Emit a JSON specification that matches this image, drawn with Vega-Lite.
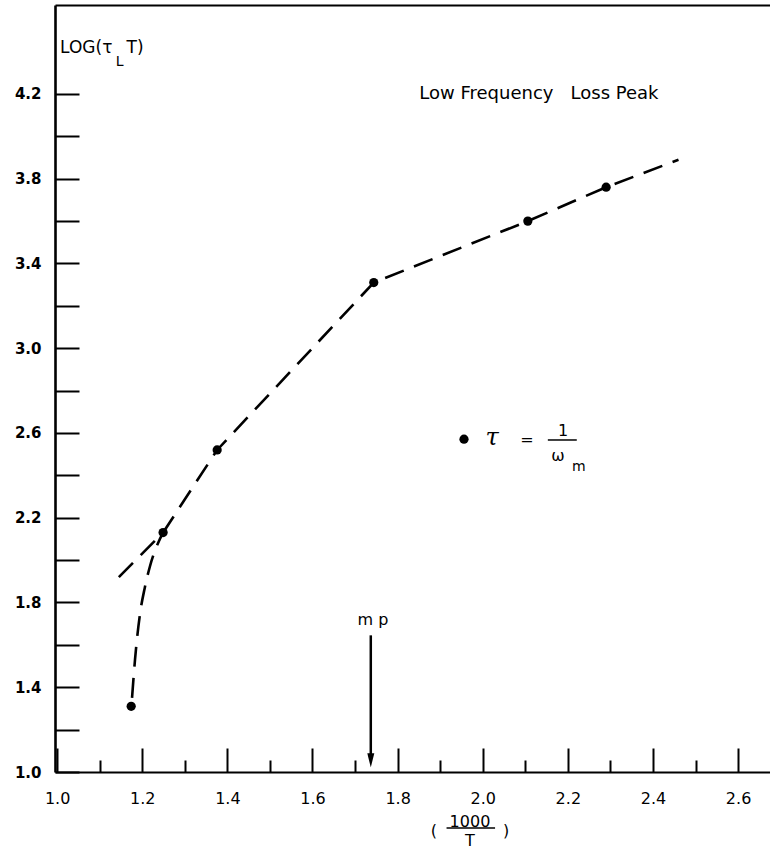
{
  "$schema": "https://vega.github.io/schema/vega-lite/v6.json",
  "width": 715,
  "height": 767,
  "autosize": "none",
  "padding": {"left": 55, "top": 5, "right": 0, "bottom": 79},
  "background": "white",
  "config": {"view": {"stroke": null}, "font": "DejaVu Sans"},
  "datasets": {
    "lineA": [
      {"x": 1.145, "y": 1.92}, {"x": 1.249, "y": 2.13}, {"x": 1.376, "y": 2.52},
      {"x": 1.744, "y": 3.31}, {"x": 2.106, "y": 3.60}, {"x": 2.29, "y": 3.76}, {"x": 2.46, "y": 3.89}
    ],
    "curveB": [
      {"x": 1.176, "y": 1.35}, {"x": 1.183, "y": 1.53}, {"x": 1.195, "y": 1.75}, {"x": 1.206, "y": 1.87},
      {"x": 1.218, "y": 1.97}, {"x": 1.237, "y": 2.08}, {"x": 1.249, "y": 2.13}
    ],
    "points": [
      {"x": 1.174, "y": 1.31}, {"x": 1.249, "y": 2.13}, {"x": 1.376, "y": 2.52},
      {"x": 1.744, "y": 3.31}, {"x": 2.106, "y": 3.60}, {"x": 2.29, "y": 3.76}
    ],
    "legendDot": [{"x": 1.956, "y": 2.571}],
    "bigText": [
      {"x": 2.022, "y": 2.576, "t": "τ"}
    ],
    "midText": [
      {"x": 2.104, "y": 2.567, "t": "="},
      {"x": 2.189, "y": 2.61, "t": "1"},
      {"x": 2.177, "y": 2.49, "t": "ω"},
      {"x": 1.742, "y": 1.717, "t": "m p"},
      {"x": 1.970, "y": 0.764, "t": "1000"},
      {"x": 1.970, "y": 0.672, "t": "T"},
      {"x": 1.885, "y": 0.72, "t": "("},
      {"x": 2.055, "y": 0.72, "t": ")"}
    ],
    "smallText": [
      {"x": 2.226, "y": 2.44, "t": "m"},
      {"x": 1.147, "y": 4.35, "t": "L"}
    ],
    "leftText": [
      {"x": 1.007, "y": 4.417, "t": "LOG(τ"},
      {"x": 1.163, "y": 4.417, "t": "T)"}
    ],
    "title": [{"x": 2.132, "y": 4.2, "t": "Low Frequency\u00a0\u00a0 Loss Peak"}],
    "bars": [
      {"x": 2.153, "x2": 2.221, "y": 2.567},
      {"x": 1.915, "x2": 2.029, "y": 0.736}
    ],
    "arrow": [{"x": 1.737, "y": 1.645, "y2": 1.08}],
    "arrowHead": [{"x": 1.737, "y": 1.055}]
  },
  "layer": [
    {
      "data": {"name": "lineA"},
      "mark": {"type": "line", "color": "black", "strokeWidth": 2.6, "strokeDash": [20, 11]},
      "encoding": {
        "x": {"field": "x", "type": "quantitative",
          "scale": {"domain": [0.995, 2.675], "nice": false, "zero": false},
          "axis": {"orient": "bottom", "values": [1.0, 1.2, 1.4, 1.6, 1.8, 2.0, 2.2, 2.4, 2.6],
            "format": ".1f", "tickSize": -24, "tickWidth": 2, "tickColor": "black",
            "domainColor": "black", "domainWidth": 2.2, "labelPadding": 42,
            "labelFontSize": 16, "labelColor": "black", "labelFlush": false, "labelOverlap": false,
            "grid": false, "title": null}},
        "y": {"field": "y", "type": "quantitative",
          "scale": {"domain": [1.0, 4.62], "nice": false, "zero": false},
          "axis": {"orient": "left", "values": [1.0, 1.2, 1.4, 1.6, 1.8, 2.0, 2.2, 2.4, 2.6, 2.8, 3.0, 3.2, 3.4, 3.6, 3.8, 4.0, 4.2],
            "labelExpr": "round(datum.value*10) % 4 == 2 ? format(datum.value, '.1f') : ''",
            "tickSize": -24, "tickWidth": 2, "tickColor": "black",
            "domainColor": "black", "domainWidth": 2.6, "labelPadding": 38,
            "labelFontSize": 15, "labelFontWeight": "bold", "labelColor": "black",
            "labelFlush": false, "labelOverlap": false, "grid": false, "title": null}}
      }
    },
    {
      "data": {"name": "curveB"},
      "mark": {"type": "line", "color": "black", "strokeWidth": 2.6, "strokeDash": [20, 11], "interpolate": "monotone"},
      "encoding": {
        "x": {"field": "x", "type": "quantitative",
          "axis": {"orient": "bottom", "values": [1.1, 1.3, 1.5, 1.7, 1.9, 2.1, 2.3, 2.5],
            "tickSize": -12, "tickWidth": 2, "tickColor": "black", "labels": false, "domain": false,
            "grid": false, "title": null}},
        "y": {"field": "y", "type": "quantitative", "axis": null}
      }
    },
    {
      "data": {"name": "points"},
      "mark": {"type": "point", "filled": true, "color": "black", "size": 85, "opacity": 1},
      "encoding": {
        "x": {"field": "x", "type": "quantitative",
          "axis": {"orient": "top", "ticks": false, "labels": false, "domain": true,
            "domainColor": "black", "domainWidth": 2, "grid": false, "title": null}},
        "y": {"field": "y", "type": "quantitative", "axis": null}
      }
    },
    {
      "data": {"name": "legendDot"},
      "mark": {"type": "point", "filled": true, "color": "black", "size": 85, "opacity": 1},
      "encoding": {
        "x": {"field": "x", "type": "quantitative", "axis": null},
        "y": {"field": "y", "type": "quantitative", "axis": null}
      }
    },
    {
      "data": {"name": "bigText"},
      "mark": {"type": "text", "fontSize": 24, "color": "black", "font": "DejaVu Serif", "fontStyle": "italic"},
      "encoding": {
        "x": {"field": "x", "type": "quantitative", "axis": null},
        "y": {"field": "y", "type": "quantitative", "axis": null},
        "text": {"field": "t"}
      }
    },
    {
      "data": {"name": "midText"},
      "mark": {"type": "text", "fontSize": 16, "color": "black"},
      "encoding": {
        "x": {"field": "x", "type": "quantitative", "axis": null},
        "y": {"field": "y", "type": "quantitative", "axis": null},
        "text": {"field": "t"}
      }
    },
    {
      "data": {"name": "smallText"},
      "mark": {"type": "text", "fontSize": 14, "color": "black"},
      "encoding": {
        "x": {"field": "x", "type": "quantitative", "axis": null},
        "y": {"field": "y", "type": "quantitative", "axis": null},
        "text": {"field": "t"}
      }
    },
    {
      "data": {"name": "leftText"},
      "mark": {"type": "text", "fontSize": 17, "color": "black", "align": "left"},
      "encoding": {
        "x": {"field": "x", "type": "quantitative", "axis": null},
        "y": {"field": "y", "type": "quantitative", "axis": null},
        "text": {"field": "t"}
      }
    },
    {
      "data": {"name": "title"},
      "mark": {"type": "text", "fontSize": 18, "color": "black"},
      "encoding": {
        "x": {"field": "x", "type": "quantitative", "axis": null},
        "y": {"field": "y", "type": "quantitative", "axis": null},
        "text": {"field": "t"}
      }
    },
    {
      "data": {"name": "bars"},
      "mark": {"type": "rule", "color": "black", "strokeWidth": 1.5},
      "encoding": {
        "x": {"field": "x", "type": "quantitative", "axis": null},
        "x2": {"field": "x2"},
        "y": {"field": "y", "type": "quantitative", "axis": null}
      }
    },
    {
      "data": {"name": "arrow"},
      "mark": {"type": "rule", "color": "black", "strokeWidth": 2.5},
      "encoding": {
        "x": {"field": "x", "type": "quantitative", "axis": null},
        "y": {"field": "y", "type": "quantitative", "axis": null},
        "y2": {"field": "y2"}
      }
    },
    {
      "data": {"name": "arrowHead"},
      "mark": {"type": "point", "shape": "M-0.5,-1L0.5,-1L0,1Z", "filled": true, "color": "black", "size": 196, "opacity": 1},
      "encoding": {
        "x": {"field": "x", "type": "quantitative", "axis": null},
        "y": {"field": "y", "type": "quantitative", "axis": null}
      }
    }
  ],
  "resolve": {"axis": {"x": "independent", "y": "independent"}}
}
